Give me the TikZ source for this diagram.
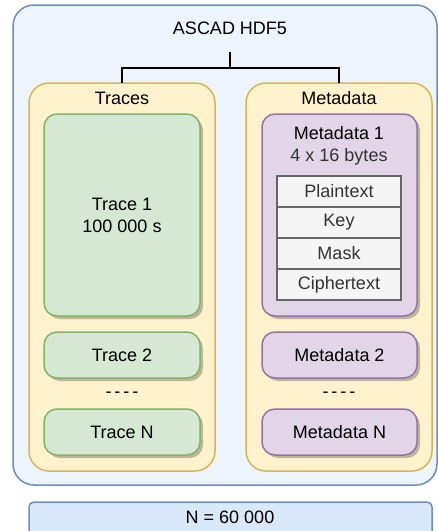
\documentclass[tikz,border=0pt]{standalone}
\usepackage{fontspec}
\setmainfont{Liberation Sans}
\usetikzlibrary{shadows}
\definecolor{outerfill}{RGB}{237,244,252}
\definecolor{bluestroke}{HTML}{6C8EBF}
\definecolor{bluefill}{HTML}{DAE8FC}
\definecolor{yelfill}{HTML}{FFF2CC}
\definecolor{yelstroke}{HTML}{D6B656}
\definecolor{grnfill}{HTML}{D5E8D4}
\definecolor{grnstroke}{HTML}{82B366}
\definecolor{purfill}{HTML}{E1D5E7}
\definecolor{purstroke}{HTML}{9673A6}
\definecolor{tabfill}{HTML}{F5F5F5}
\definecolor{tabstroke}{HTML}{666666}
\definecolor{tabtext}{HTML}{333333}
\newcommand{\mydashes}{-\kern3pt-\kern3pt-\kern3pt-}
\tikzset{
  lbl/.style={font=\fontsize{18}{22}\selectfont, inner sep=0pt, align=center},
  box/.style={line width=1.5pt, anchor=north west, inner sep=0pt, outer sep=0pt},
  outerbox/.style={box, draw=bluestroke, fill=outerfill, rounded corners=21pt},
  contbox/.style={box, draw=yelstroke, fill=yelfill, rounded corners=20pt},
  shad/.style={drop shadow={shadow xshift=3pt, shadow yshift=-3pt, opacity=0.25, fill=black}},
  grnbox/.style={box, shad, draw=grnstroke, fill=grnfill, rounded corners=13pt, lbl},
  purbox/.style={box, shad, draw=purstroke, fill=purfill, rounded corners=13pt, lbl},
  tabrow/.style={box, draw=tabstroke, fill=tabfill, text=tabtext, lbl, minimum width=124pt, minimum height=31pt},
  nbox/.style={box, draw=bluestroke, fill=bluefill, rounded corners=5pt},
  tree/.style={line width=1.5pt, draw=black},
}
\begin{document}
\begin{tikzpicture}[x=1pt, y=-1pt]
\useasboundingbox (0,0) rectangle (438,531);
% outer container
\node[outerbox, minimum width=424pt, minimum height=480pt] (outer) at (13,5) {};
\node[lbl, minimum height=48pt] (hdf) at (230,28) {ASCAD HDF5};
% containers
\node[contbox, minimum width=186pt, minimum height=388pt] (traces) at (29,83) {};
\node[contbox, minimum width=186pt, minimum height=388pt] (meta) at (246,83) {};
\node[lbl] (traceslbl) at (122,98) {Traces};
\node[lbl] (metalbl) at (339,98) {Metadata};
% tree connector
\coordinate (split) at (230,68);
\draw[tree] (hdf.south) -- (split) -| (traces.north);
\draw[tree] (split) -| (meta.north);
% traces
\node[grnbox, minimum width=156pt, minimum height=202pt] (t1) at (44,114) {};
\node[lbl] (t1lbl) at (t1.center) {Trace 1\\100 000 s};
\node[grnbox, minimum width=156pt, minimum height=46pt] (t2) at (44,332) {};
\node[lbl] (t2lbl) at (t2.center) {Trace 2};
\node[lbl] (tdots) at (122,395) {\mydashes};
\node[grnbox, minimum width=156pt, minimum height=46pt] (tn) at (44,409) {};
\node[lbl] (tnlbl) at (tn.center) {Trace N};
% metadata
\node[purbox, minimum width=155pt, minimum height=202pt] (m1) at (262,114) {};
\node[lbl] (m1lbl) at (339,133) {Metadata 1};
\node[lbl, text=tabtext] (m1size) at (339,157) {4 x 16 bytes};
\node[tabrow] (pt) at (277,176) {Plaintext};
\node[tabrow] (key) at (277,207) {Key};
\node[tabrow] (mask) at (277,238) {Mask};
\node[tabrow] (ct) at (277,269) {Ciphertext};
\node[purbox, minimum width=155pt, minimum height=46pt] (m2) at (262,332) {};
\node[lbl] (m2lbl) at (m2.center) {Metadata 2};
\node[lbl] (mdots) at (339,395) {\mydashes};
\node[purbox, minimum width=155pt, minimum height=46pt] (mn) at (262,409) {};
\node[lbl] (mnlbl) at (mn.center) {Metadata N};
% N box
\node[nbox, minimum width=403pt, minimum height=40pt] (nbox) at (29,502) {};
\node[lbl] (nlbl) at (230,517) {N = 60 000};
\end{tikzpicture}
\end{document}
